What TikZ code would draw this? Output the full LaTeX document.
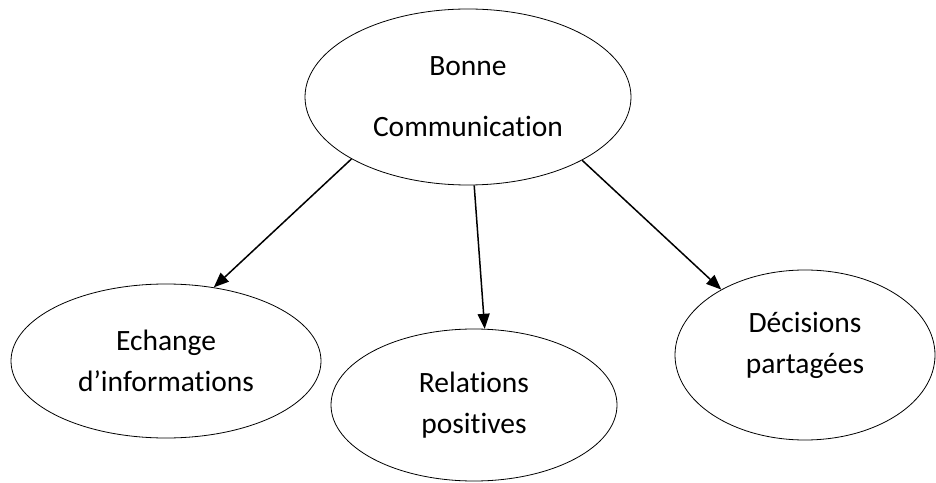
\documentclass[tikz,border=0pt]{standalone}
\usepackage{fontspec}
\setmainfont[Ligatures=NoCommon]{Carlito}
\usetikzlibrary{shapes.geometric,arrows.meta}
\begin{document}
\begin{tikzpicture}[x=1pt,y=1pt,
  bubble/.style={ellipse, draw=black, line width=0.8pt, inner sep=0pt, align=center},
  bigtext/.style={font=\fontsize{29.5pt}{61pt}\selectfont},
  smalltext/.style={font=\fontsize{29.5pt}{41pt}\selectfont},
  link/.style={line width=1.5pt, -{Triangle[length=15pt,width=12pt]}}]
\useasboundingbox (0,0) rectangle (936,482);
\node[bubble, bigtext, minimum width=326pt, minimum height=176pt] (top) at (468,385) {Bonne\\Communication};
\node[bubble, smalltext, minimum width=310pt, minimum height=154pt] (left) at (166,121) {Echange\\d’informations};
\node[bubble, smalltext, minimum width=286pt, minimum height=152pt] (mid) at (474,77) {Relations\\positives};
\node[bubble, minimum width=260pt, minimum height=170pt,
  label={[smalltext, align=center, yshift=10pt]center:Décisions\\partagées}] (right) at (805,127) {};
\draw[link] (top.208.5) -- (left.57.4);
\draw[link] (top.274.7) -- (mid.82.5);
\draw[link] (top.331.6) -- (right.142.9);
\end{tikzpicture}
\end{document}
